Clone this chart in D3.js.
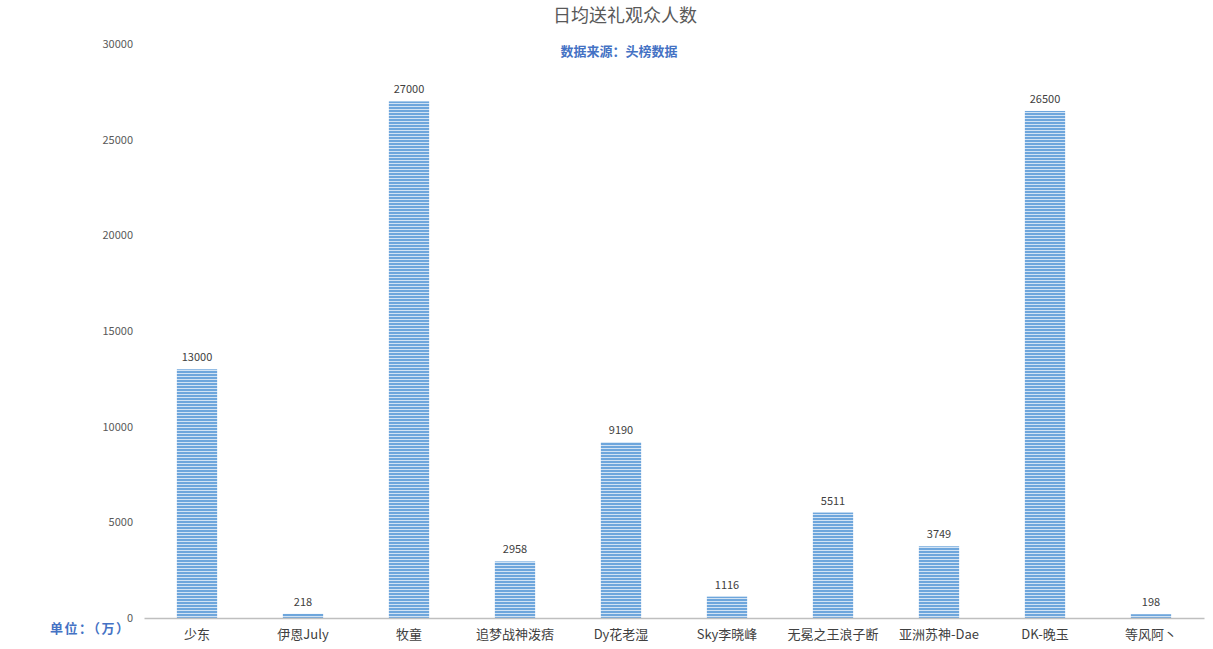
<!DOCTYPE html>
<html>
<head>
<meta charset="utf-8">
<script src="https://cdn.jsdelivr.net/npm/d3@7/dist/d3.min.js"></script>
<style>
  body { margin: 0; background: #fff; overflow: hidden; }
  text { font-family: "Noto Sans CJK SC", "Noto Sans", sans-serif; }
</style>
</head>
<body>
<div id="chart"></div>
<script>
const width = 1213;
const height = 649;
const margin = { top: 44, right: 9, bottom: 31, left: 144 };
const innerWidth = width - margin.left - margin.right;
const innerHeight = height - margin.top - margin.bottom;

// data
const names = ["少东", "伊恩July", "牧童", "追梦战神泼痞", "Dy花老湿", "Sky李晓峰", "无冕之王浪子断", "亚洲苏神-Dae", "DK-晚玉", "等风阿丶"];
const viewers = [13000, 218, 27000, 2958, 9190, 1116, 5511, 3749, 26500, 198];
const yTicks = [0, 5000, 10000, 15000, 20000, 25000, 30000];

const data = names.map((n, i) => ({ name: n, value: viewers[i] }));

const svg = d3.select("#chart")
    .append("svg")
    .attr("width", width)
    .attr("height", height)
    .style("display", "block");

// striped fill for bars
const defs = svg.append("defs");
const pat = defs.append("pattern")
    .attr("id", "stripes")
    .attr("patternUnits", "userSpaceOnUse")
    .attr("width", 6)
    .attr("height", 3);
pat.append("rect").attr("width", 6).attr("height", 3).attr("fill", "#d2e3f4");
pat.append("rect").attr("width", 6).attr("height", 2).attr("fill", "#6ea6dc");

const xScale = d3.scaleBand()
    .domain(names)
    .range([0, innerWidth])
    .paddingInner(0.62)
    .paddingOuter(0.31);

const yScale = d3.scaleLinear()
    .domain([0, 30000])
    .range([innerHeight, 0]);

const g = svg.append("g")
    .attr("transform", `translate(${margin.left},${margin.top})`);

// y axis (labels only)
const yAxis = d3.axisLeft(yScale).tickValues(yTicks).tickSize(0).tickPadding(11).tickFormat(d3.format("d"));
g.append("g")
    .call(yAxis)
    .call(s => s.select(".domain").remove())
    .selectAll("text")
    .attr("fill", "#595959")
    .style("font-size", "11px");

// bars
g.selectAll("rect.bar")
    .data(data)
    .enter()
    .append("rect")
    .attr("class", "bar")
    .attr("x", d => xScale(d.name))
    .attr("y", d => yScale(d.value))
    .attr("width", xScale.bandwidth())
    .attr("height", d => innerHeight - yScale(d.value))
    .attr("fill", "url(#stripes)");

// value labels
g.selectAll("text.val")
    .data(data)
    .enter()
    .append("text")
    .attr("class", "val")
    .attr("x", d => xScale(d.name) + xScale.bandwidth() / 2)
    .attr("y", d => yScale(d.value) - 8)
    .attr("text-anchor", "middle")
    .attr("fill", "#404040")
    .style("font-size", "11px")
    .text(d => d.value);

// x axis
const xAxis = d3.axisBottom(xScale).tickSize(0);
g.append("g")
    .attr("transform", `translate(0,${innerHeight})`)
    .call(xAxis)
    .call(s => s.select(".domain").attr("stroke", "#bfbfbf").attr("stroke-width", 1.5))
    .selectAll("text")
    .attr("dy", null)
    .attr("y", 21)
    .attr("fill", "#404040")
    .style("font-size", "13px");

// title
svg.append("text")
    .attr("x", 625)
    .attr("y", 22)
    .attr("text-anchor", "middle")
    .attr("fill", "#595959")
    .style("font-size", "18px")
    .text("日均送礼观众人数");

svg.append("text")
    .attr("x", 619)
    .attr("y", 56)
    .attr("text-anchor", "middle")
    .attr("fill", "#4472c4")
    .style("font-size", "13px")
    .style("font-weight", "bold")
    .text("数据来源：头榜数据");

svg.append("text")
    .attr("x", 50)
    .attr("y", 633)
    .attr("fill", "#4472c4")
    .style("font-size", "13px")
    .style("font-weight", "bold")
    .style("letter-spacing", "1.5px")
    .text("单位：（万）");
</script>
</body>
</html>
